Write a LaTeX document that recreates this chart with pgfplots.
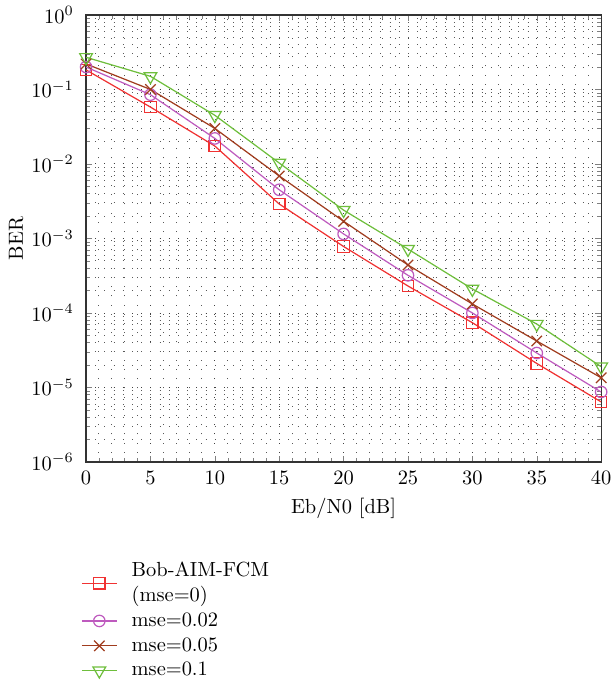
\documentclass[border=0pt]{standalone}
\usepackage{pgfplots}
\pgfplotsset{compat=1.18}
\definecolor{cred}{RGB}{240,50,50}
\definecolor{cpur}{RGB}{190,90,190}
\definecolor{cbrn}{RGB}{160,60,30}
\definecolor{cgrn}{RGB}{110,190,60}
\begin{document}
\begin{tikzpicture}
\begin{axis}[
  scale only axis,
  width=252pt, height=218.7pt,
  ymode=log,
  xmin=0, xmax=40, ymin=1e-6, ymax=1,
  xtick={0,5,...,40},
  minor x tick num=4,
  ytick={1e-6,1e-5,1e-4,1e-3,1e-2,1e-1,1},
  tick align=inside,
  major tick length=3pt, minor tick length=1.8pt,
  axis line style={line width=0.6pt, black!80},
  grid=both,
  major grid style={black!75, line width=0.45pt, dash pattern=on 0.5pt off 4pt},
  minor grid style={black!65, line width=0.45pt, dash pattern=on 0.5pt off 4pt},
  xlabel={Eb/N0 [dB]}, ylabel={BER},
  xlabel style={yshift=0pt},
  ylabel style={yshift=-3pt},
  yticklabel style={xshift=-2.5pt},
  xticklabel style={yshift=-1pt},
  legend style={draw=none, fill=none, at={(-0.022,-0.205)}, anchor=north west,
    nodes={align=left, anchor=west}, row sep=0pt,
    /tikz/every odd column/.append style={column sep=5pt}},
  legend cell align=left,
  every axis plot/.append style={line width=0.6pt, mark size=2.8pt},
]
\coordinate (ll) at (rel axis cs:0,0);
\coordinate (ur) at (rel axis cs:1,1);
\addplot[cred, mark=square, mark options={solid}] coordinates {
(0,0.183) (5,0.058) (10,0.0174) (15,0.0029) (20,0.00078) (25,0.00023) (30,7.4e-5) (35,2.1e-5) (40,6.4e-6)};
\addlegendentry{Bob-AIM-FCM\\(mse=0)}
\addplot[cpur, mark=o] coordinates {
(0,0.2) (5,0.085) (10,0.022) (15,0.0045) (20,0.00115) (25,0.00032) (30,1.0e-4) (35,2.9e-5) (40,8.7e-6)};
\addlegendentry{mse=0.02}
\addplot[cbrn, mark=x, mark size=3.6pt] coordinates {
(0,0.22) (5,0.1) (10,0.030) (15,0.0069) (20,0.0017) (25,0.00044) (30,1.32e-4) (35,4.2e-5) (40,1.35e-5)};
\addlegendentry{mse=0.05}
\addplot[cgrn, mark=triangle, mark options={rotate=180}, mark size=3.6pt] coordinates {
(0,0.27) (5,0.15) (10,0.045) (15,0.0103) (20,0.0024) (25,0.00072) (30,2.1e-4) (35,7.1e-5) (40,1.9e-5)};
\addlegendentry{mse=0.1}
\end{axis}
\pgfresetboundingbox
\path ([xshift=-42.1pt,yshift=-109.6pt]ll) rectangle ([xshift=4.9pt,yshift=7.3pt]ur);
\end{tikzpicture}
\end{document}
